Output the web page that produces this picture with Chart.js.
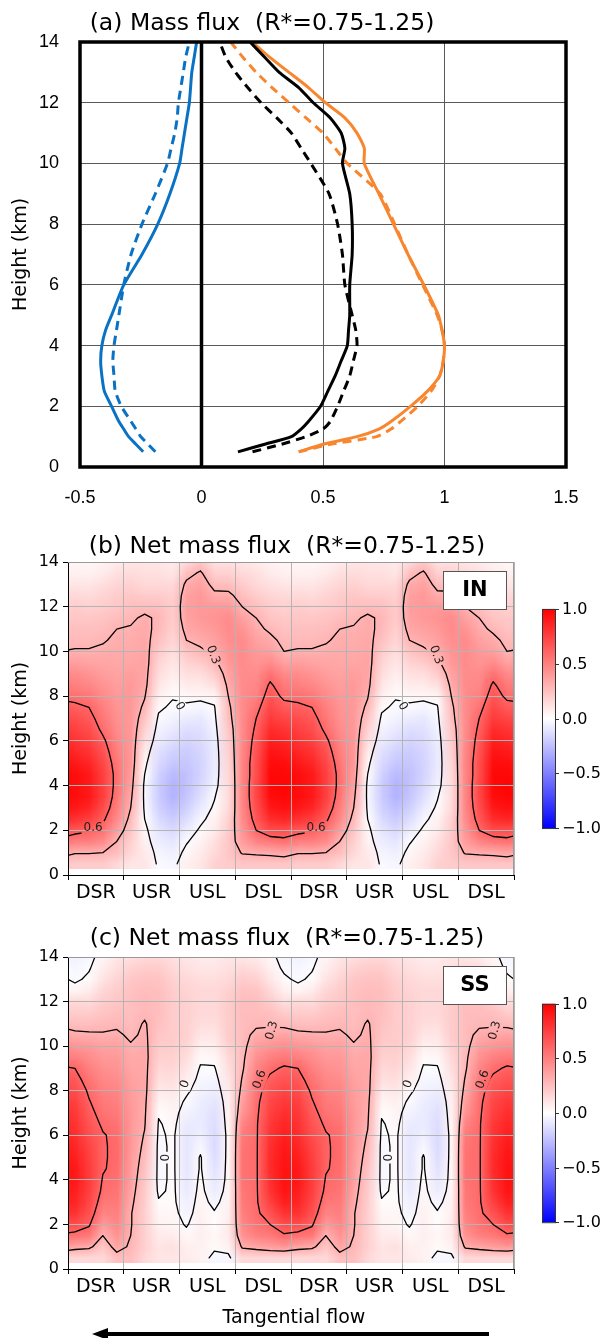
<!DOCTYPE html>
<html>
<head>
<meta charset="utf-8">
<script src="https://cdn.jsdelivr.net/npm/chart.js@4.4.1/dist/chart.umd.min.js"></script>
<style>
  body { margin: 0; background: #fff; }
  canvas { position: absolute; left: 0; }
</style>
</head>
<body>
<canvas id="fluxChart" width="608" height="515" style="top:0px"></canvas>
<canvas id="netInChart" width="608" height="390" style="top:515px"></canvas>
<canvas id="netSsChart" width="608" height="433" style="top:905px"></canvas>
<script>
// ---- (a) mass flux profiles ----
const profileHeights = [0.5,0.75,1,1.25,1.5,2,2.5,3,3.5,4,4.5,5,6,7,8,9,10,10.5,11,11.5,12,12.5,13,13.5,14];
const blueSolid    = [-0.24,-0.27,-0.30,-0.32,-0.34,-0.37,-0.40,-0.41,-0.415,-0.41,-0.395,-0.37,-0.32,-0.245,-0.18,-0.13,-0.09,-0.08,-0.07,-0.06,-0.05,-0.045,-0.04,-0.03,-0.02];
const blueDashed   = [-0.19,-0.22,-0.25,-0.27,-0.29,-0.33,-0.355,-0.36,-0.365,-0.36,-0.35,-0.34,-0.32,-0.29,-0.245,-0.19,-0.14,-0.125,-0.11,-0.10,-0.095,-0.085,-0.075,-0.065,-0.05];
const blackSolid   = [0.15,0.26,0.37,0.41,0.44,0.49,0.52,0.55,0.575,0.60,0.605,0.61,0.61,0.62,0.62,0.61,0.58,0.59,0.575,0.53,0.46,0.40,0.32,0.26,0.20];
const blackDashed  = [0.21,0.33,0.43,0.50,0.53,0.56,0.585,0.61,0.625,0.64,0.635,0.62,0.59,0.58,0.56,0.525,0.45,0.41,0.37,0.31,0.245,0.19,0.14,0.10,0.075];
const orangeSolid  = [0.40,0.50,0.64,0.73,0.78,0.86,0.93,0.98,0.995,1.0,0.99,0.975,0.915,0.85,0.79,0.73,0.67,0.67,0.64,0.59,0.51,0.44,0.36,0.28,0.21];
const orangeDashed = [0.40,0.53,0.72,0.78,0.82,0.89,0.945,0.98,0.995,1.0,0.99,0.97,0.91,0.85,0.795,0.735,0.60,0.55,0.50,0.43,0.36,0.29,0.225,0.17,0.12];
const fluxTicks = [-0.5, 0, 0.5, 1, 1.5];

// ---- (b), (c) net mass flux, azimuth-height sections ----
const sectorLabels = ['DSR','USR','USL','DSL','DSR','USR','USL','DSL'];
const gridHeights = [0.5,1,1.5,2,2.5,3,3.5,4,4.5,5,5.5,6,6.5,7,7.5,8,8.5,9,9.5,10,10.5,11,11.5,12,12.5,13,13.5,14];
// one azimuth cycle, 16 columns (4 per sector), each column from bottom to top
const netIN = [
  [0.2,0.31,0.5,0.65,0.8,0.9,0.95,0.95,0.95,0.9,0.85,0.8,0.75,0.7,0.63,0.56,0.5,0.45,0.38,0.31,0.27,0.25,0.22,0.2,0.15,0.1,0.06,0.03],
  [0.2,0.31,0.5,0.62,0.75,0.85,0.9,0.9,0.9,0.85,0.8,0.75,0.7,0.65,0.6,0.53,0.47,0.42,0.36,0.31,0.27,0.25,0.22,0.18,0.14,0.1,0.06,0.03],
  [0.2,0.3,0.45,0.55,0.63,0.7,0.75,0.75,0.75,0.72,0.68,0.63,0.57,0.53,0.5,0.46,0.42,0.38,0.35,0.32,0.29,0.26,0.23,0.2,0.17,0.13,0.08,0.05],
  [0.15,0.25,0.3,0.38,0.45,0.5,0.53,0.55,0.55,0.53,0.5,0.48,0.45,0.43,0.42,0.4,0.38,0.36,0.34,0.33,0.32,0.3,0.26,0.22,0.2,0.16,0.12,0.08],
  [0.1,0.15,0.18,0.22,0.26,0.3,0.33,0.36,0.38,0.4,0.4,0.4,0.4,0.4,0.4,0.4,0.4,0.38,0.35,0.33,0.32,0.31,0.28,0.25,0.22,0.18,0.14,0.1],
  [0.1,0.08,0.05,0.03,0.0,-0.02,-0.03,-0.03,0.0,0.03,0.07,0.12,0.17,0.22,0.27,0.31,0.34,0.35,0.36,0.35,0.34,0.33,0.32,0.26,0.2,0.15,0.12,0.1],
  [-0.02,-0.04,-0.07,-0.1,-0.14,-0.18,-0.2,-0.2,-0.18,-0.15,-0.12,-0.08,-0.05,-0.02,0.02,0.06,0.1,0.13,0.16,0.2,0.24,0.27,0.28,0.25,0.2,0.15,0.12,0.1],
  [-0.03,-0.06,-0.1,-0.15,-0.2,-0.25,-0.3,-0.3,-0.27,-0.22,-0.18,-0.13,-0.09,-0.05,-0.02,0.01,0.04,0.07,0.1,0.13,0.16,0.18,0.2,0.2,0.18,0.15,0.1,0.08],
  [0.06,0.03,-0.01,-0.07,-0.13,-0.18,-0.22,-0.24,-0.24,-0.22,-0.2,-0.17,-0.13,-0.08,-0.02,0.03,0.08,0.12,0.17,0.23,0.3,0.34,0.37,0.38,0.37,0.33,0.25,0.15],
  [0.1,0.08,0.05,0.02,-0.03,-0.08,-0.12,-0.15,-0.17,-0.17,-0.16,-0.14,-0.12,-0.09,-0.04,0.03,0.08,0.13,0.2,0.28,0.33,0.37,0.4,0.4,0.4,0.37,0.32,0.22],
  [0.18,0.15,0.12,0.08,0.05,0.02,-0.01,-0.05,-0.07,-0.08,-0.08,-0.07,-0.05,-0.03,-0.01,0.04,0.12,0.2,0.27,0.32,0.37,0.4,0.42,0.4,0.33,0.26,0.18,0.12],
  [0.2,0.22,0.22,0.2,0.18,0.15,0.14,0.14,0.15,0.16,0.18,0.2,0.22,0.25,0.27,0.3,0.33,0.36,0.4,0.42,0.44,0.45,0.45,0.4,0.33,0.25,0.18,0.12],
  [0.22,0.31,0.38,0.42,0.45,0.47,0.48,0.48,0.48,0.48,0.47,0.46,0.45,0.45,0.45,0.45,0.45,0.45,0.45,0.45,0.45,0.42,0.37,0.3,0.25,0.2,0.15,0.1],
  [0.22,0.32,0.48,0.6,0.66,0.7,0.72,0.72,0.7,0.7,0.68,0.66,0.63,0.6,0.55,0.5,0.47,0.45,0.42,0.4,0.37,0.33,0.3,0.25,0.2,0.15,0.12,0.08],
  [0.22,0.33,0.52,0.7,0.82,0.9,0.95,0.97,0.97,0.95,0.92,0.88,0.83,0.77,0.72,0.67,0.62,0.55,0.45,0.38,0.33,0.28,0.23,0.2,0.16,0.12,0.08,0.05],
  [0.22,0.35,0.55,0.7,0.85,0.93,0.97,0.98,0.97,0.95,0.9,0.85,0.8,0.73,0.65,0.57,0.52,0.46,0.37,0.3,0.27,0.24,0.21,0.18,0.15,0.1,0.06,0.04]
];
const netSS = [
  [0.15,0.35,0.55,0.7,0.8,0.85,0.88,0.9,0.9,0.88,0.85,0.82,0.8,0.78,0.75,0.7,0.65,0.6,0.5,0.42,0.33,0.25,0.2,0.15,0.04,-0.02,-0.03,-0.05],
  [0.15,0.33,0.52,0.62,0.68,0.72,0.75,0.76,0.76,0.75,0.73,0.7,0.67,0.64,0.61,0.58,0.54,0.5,0.45,0.4,0.32,0.25,0.2,0.14,0.08,0.02,-0.01,-0.03],
  [0.15,0.22,0.3,0.4,0.48,0.53,0.57,0.59,0.61,0.61,0.61,0.61,0.58,0.55,0.52,0.5,0.47,0.44,0.4,0.37,0.31,0.27,0.23,0.2,0.16,0.11,0.07,0.04],
  [0.25,0.35,0.42,0.47,0.5,0.52,0.54,0.56,0.57,0.58,0.58,0.57,0.55,0.52,0.5,0.48,0.45,0.42,0.4,0.37,0.32,0.28,0.25,0.22,0.2,0.17,0.13,0.1],
  [0.25,0.28,0.3,0.31,0.31,0.33,0.35,0.37,0.38,0.39,0.4,0.4,0.4,0.4,0.39,0.38,0.37,0.35,0.33,0.31,0.28,0.26,0.25,0.25,0.24,0.22,0.18,0.12],
  [0.15,0.18,0.18,0.18,0.18,0.19,0.2,0.21,0.23,0.25,0.27,0.29,0.31,0.32,0.33,0.34,0.34,0.34,0.34,0.33,0.32,0.31,0.28,0.27,0.26,0.24,0.2,0.15],
  [0.1,0.1,0.08,0.05,0.03,0.01,-0.02,-0.03,-0.03,-0.03,-0.03,-0.02,-0.01,0.01,0.04,0.08,0.12,0.15,0.18,0.2,0.22,0.24,0.25,0.25,0.25,0.23,0.2,0.15],
  [0.1,0.12,0.08,0.04,0.03,0.02,0.02,0.02,0.02,0.02,0.02,0.02,0.03,0.04,0.06,0.1,0.13,0.16,0.18,0.2,0.2,0.2,0.2,0.2,0.2,0.18,0.15,0.12],
  [0.08,0.06,0.03,-0.01,-0.04,-0.06,-0.08,-0.09,-0.1,-0.1,-0.1,-0.1,-0.08,-0.05,-0.02,0.02,0.06,0.1,0.13,0.16,0.18,0.18,0.18,0.18,0.17,0.15,0.12,0.1],
  [0.05,0.05,0.06,0.06,0.05,0.04,0.03,0.02,0.01,0.01,-0.03,-0.06,-0.08,-0.08,-0.07,-0.05,-0.03,-0.01,0.02,0.06,0.1,0.13,0.15,0.15,0.15,0.13,0.1,0.08],
  [-0.03,0.02,0.03,0.01,0.01,-0.03,-0.07,-0.09,-0.11,-0.13,-0.14,-0.14,-0.13,-0.12,-0.1,-0.07,-0.04,-0.01,0.03,0.07,0.1,0.13,0.15,0.15,0.15,0.13,0.1,0.08],
  [-0.03,0.05,0.08,0.08,0.06,0.05,0.04,0.03,0.03,0.03,0.03,0.03,0.04,0.05,0.06,0.08,0.1,0.13,0.15,0.18,0.2,0.2,0.2,0.2,0.18,0.15,0.12,0.1],
  [0.15,0.32,0.42,0.47,0.5,0.52,0.53,0.55,0.55,0.55,0.54,0.52,0.48,0.42,0.38,0.34,0.31,0.28,0.27,0.26,0.26,0.26,0.26,0.26,0.24,0.2,0.15,0.1],
  [0.15,0.35,0.5,0.55,0.57,0.58,0.58,0.58,0.58,0.58,0.58,0.58,0.58,0.57,0.56,0.54,0.52,0.48,0.43,0.38,0.33,0.28,0.26,0.25,0.23,0.18,0.13,0.08],
  [0.15,0.38,0.52,0.6,0.68,0.75,0.8,0.82,0.83,0.83,0.82,0.8,0.78,0.75,0.72,0.68,0.63,0.57,0.5,0.42,0.35,0.28,0.25,0.2,0.15,0.1,0.06,0.03],
  [0.15,0.4,0.58,0.7,0.8,0.88,0.92,0.93,0.93,0.92,0.9,0.88,0.85,0.82,0.78,0.73,0.68,0.62,0.53,0.45,0.36,0.27,0.2,0.13,0.06,0.02,-0.02,-0.04]
];
const contourLevels = [0, 0.3, 0.6];
const colorbarTicks = [1.0, 0.5, 0.0, -0.5, -1.0];

// contour labels for one azimuth cycle (repeated for each cycle drawn)
const labelsIN = [
  { x: 0.45, y: 2.1, text: '0.6', rot: 0 },
  { x: 2.6, y: 9.85, text: '0.3', rot: 70 },
  { x: 2.0, y: 7.55, text: '0', rot: 60 }
];
const labelsSS = [
  { x: 3.66, y: 10.7, text: '0.3', rot: -75 },
  { x: 3.44, y: 8.5, text: '0.6', rot: -70 },
  { x: 2.1, y: 8.3, text: '0', rot: -70 },
  { x: 1.76, y: 5.0, text: '0', rot: -90 }
];

Chart.defaults.color = '#000';
Chart.defaults.font.family = "'DejaVu Sans', sans-serif";

const DEJAVU = "'DejaVu Sans', sans-serif";
const LIBSANS = "'Liberation Sans', Arial, sans-serif";

function titlePlugin(text, x, y) {
  return {
    id: 'panelTitle',
    afterDraw(chart) {
      const ctx = chart.ctx;
      ctx.save();
      ctx.font = '23.5px ' + DEJAVU;
      ctx.fillStyle = '#000';
      ctx.textAlign = 'center';
      ctx.textBaseline = 'alphabetic';
      ctx.fillText(text, x, y);
      ctx.restore();
    }
  };
}

// ---------- panel (a) ----------
function profile(xs, color, dashed) {
  return {
    data: xs.map((x, i) => ({ x: x, y: profileHeights[i] })),
    borderColor: color,
    borderWidth: 3,
    borderDash: dashed ? [9, 6] : [],
    showLine: true,
    pointRadius: 0,
    tension: 0.2
  };
}

const framePlugin = {
  id: 'frame',
  afterDraw(chart) {
    const { ctx, chartArea: a } = chart;
    ctx.save();
    ctx.strokeStyle = '#000';
    ctx.lineWidth = 3.5;
    ctx.strokeRect(a.left, a.top, a.right - a.left, a.bottom - a.top);
    ctx.restore();
  }
};

new Chart(document.getElementById('fluxChart'), {
  type: 'scatter',
  data: {
    datasets: [
      { data: [{ x: 0, y: 0 }, { x: 0, y: 14 }], borderColor: '#000', borderWidth: 3.5, showLine: true, pointRadius: 0 },
      profile(blueSolid, '#0A72C4', false),
      profile(blueDashed, '#0A72C4', true),
      profile(blackSolid, '#000', false),
      profile(blackDashed, '#000', true),
      profile(orangeSolid, '#F7862F', false),
      profile(orangeDashed, '#F7862F', true)
    ]
  },
  options: {
    responsive: false,
    animation: false,
    layout: { padding: { top: 42, right: 42, left: 0, bottom: 0 } },
    plugins: { legend: { display: false }, tooltip: { enabled: false } },
    scales: {
      x: {
        type: 'linear', min: -0.5, max: 1.5,
        afterFit: s => { s.height = 48; },
        afterBuildTicks: s => { s.ticks = fluxTicks.map(v => ({ value: v })); },
        ticks: { padding: 20, font: { family: LIBSANS, size: 18 }, callback: v => String(v) },
        grid: { color: '#5a5a5a', lineWidth: 1, drawTicks: false },
        border: { display: false }
      },
      y: {
        min: 0, max: 14,
        afterFit: s => { s.width = 80; },
        ticks: { stepSize: 2, padding: 21, font: { family: LIBSANS, size: 18 } },
        grid: { color: '#5a5a5a', lineWidth: 1, drawTicks: false },
        border: { display: false },
        title: { display: true, text: 'Height (km)', font: { family: DEJAVU, size: 19 }, padding: { top: 10, bottom: 0 } }
      }
    }
  },
  plugins: [framePlugin, titlePlugin('(a) Mass flux  (R*=0.75-1.25)', 262, 30)]
});

// ---------- panels (b) and (c) ----------
function bwr(v) {
  v = Math.max(-1, Math.min(1, v));
  if (v >= 0) { const c = Math.round(255 * (1 - v)); return [255, c, c]; }
  const c = Math.round(255 * (1 + v));
  return [c, c, 255];
}

// marching squares over the column grid; the azimuth wraps at both ends
function contourSegments(cols, level) {
  const nx = cols.length, ny = gridHeights.length;
  const dx = sectorLabels.length / nx;
  const val = (k, j) => cols[((k - 1) % nx + nx) % nx][j];
  const segs = [];
  const crosses = (a, b) => (a < level) !== (b < level);
  const cut = (a, b, pa, pb) => {
    const t = (level - a) / (b - a);
    return [pa[0] + t * (pb[0] - pa[0]), pa[1] + t * (pb[1] - pa[1])];
  };
  for (let k = 0; k <= nx; k++) {
    const xa = (k - 0.5) * dx, xb = (k + 0.5) * dx;
    for (let j = 0; j < ny - 1; j++) {
      const ya = gridHeights[j], yb = gridHeights[j + 1];
      const v00 = val(k, j), v10 = val(k + 1, j), v11 = val(k + 1, j + 1), v01 = val(k, j + 1);
      const p00 = [xa, ya], p10 = [xb, ya], p11 = [xb, yb], p01 = [xa, yb];
      const bottom = crosses(v00, v10) ? cut(v00, v10, p00, p10) : null;
      const right = crosses(v10, v11) ? cut(v10, v11, p10, p11) : null;
      const top = crosses(v11, v01) ? cut(v11, v01, p11, p01) : null;
      const left = crosses(v01, v00) ? cut(v01, v00, p01, p00) : null;
      const pts = [bottom, right, top, left].filter(Boolean);
      if (pts.length === 2) {
        segs.push(pts);
      } else if (pts.length === 4) {
        const centre = (v00 + v10 + v11 + v01) / 4;
        if ((centre >= level) === (v00 >= level)) segs.push([bottom, right], [top, left]);
        else segs.push([left, bottom], [right, top]);
      }
    }
  }
  return segs;
}

function netFluxPlugins(cycle, labels, tag, withFlowArrow) {
  // the azimuth cycle is drawn twice around the x axis
  const cols = cycle.concat(cycle);
  const nx = cols.length, ny = gridHeights.length;
  const dx = sectorLabels.length / nx;
  const dh = gridHeights[1] - gridHeights[0];
  const cycleLen = sectorLabels.length / 2;
  const allLabels = labels.concat(labels.map(l => Object.assign({}, l, { x: l.x + cycleLen })));
  const contours = contourLevels.map(lv => contourSegments(cols, lv));

  const img = document.createElement('canvas');
  img.width = nx + 2;
  img.height = ny;
  const ictx = img.getContext('2d');
  const pix = ictx.createImageData(nx + 2, ny);
  for (let k = 0; k < nx + 2; k++) {
    const col = cols[((k - 1) % nx + nx) % nx];
    for (let j = 0; j < ny; j++) {
      const [r, g, b] = bwr(col[j]);
      const p = ((ny - 1 - j) * (nx + 2) + k) * 4;
      pix.data[p] = r; pix.data[p + 1] = g; pix.data[p + 2] = b; pix.data[p + 3] = 255;
    }
  }
  ictx.putImageData(pix, 0, 0);

  const heatmap = {
    id: 'heatmap',
    beforeDraw(chart) {
      const { ctx, chartArea: a, scales: { x: xs, y: ys } } = chart;
      const x0 = xs.getPixelForValue(-dx), x1 = xs.getPixelForValue((nx + 1) * dx);
      const yTop = ys.getPixelForValue(gridHeights[ny - 1] + dh / 2);
      const yBot = ys.getPixelForValue(gridHeights[0] - dh / 2);
      ctx.save();
      ctx.beginPath();
      ctx.rect(a.left, a.top, a.right - a.left, a.bottom - a.top);
      ctx.clip();
      ctx.imageSmoothingEnabled = true;
      ctx.drawImage(img, x0, yTop, x1 - x0, yBot - yTop);
      ctx.restore();
    },
    afterDatasetsDraw(chart) {
      const { ctx, chartArea: a, scales: { x: xs, y: ys } } = chart;
      ctx.save();
      ctx.font = '12px ' + DEJAVU;
      // keep the lines out from under their labels
      ctx.beginPath();
      ctx.rect(a.left, a.top, a.right - a.left, a.bottom - a.top);
      allLabels.forEach(l => {
        const w = ctx.measureText(l.text).width + 4;
        ctx.save();
        ctx.translate(xs.getPixelForValue(l.x), ys.getPixelForValue(l.y));
        ctx.rotate(l.rot * Math.PI / 180);
        ctx.rect(-w / 2, -7, w, 14);
        ctx.restore();
      });
      ctx.clip('evenodd');
      ctx.strokeStyle = '#000';
      ctx.lineWidth = 1.3;
      ctx.lineCap = 'round';
      contours.forEach(segs => {
        ctx.beginPath();
        segs.forEach(([p, q]) => {
          ctx.moveTo(xs.getPixelForValue(p[0]), ys.getPixelForValue(p[1]));
          ctx.lineTo(xs.getPixelForValue(q[0]), ys.getPixelForValue(q[1]));
        });
        ctx.stroke();
      });
      ctx.restore();

      ctx.save();
      ctx.fillStyle = '#222';
      ctx.font = '12px ' + DEJAVU;
      ctx.textAlign = 'center';
      ctx.textBaseline = 'middle';
      allLabels.forEach(l => {
        ctx.save();
        ctx.translate(xs.getPixelForValue(l.x), ys.getPixelForValue(l.y));
        ctx.rotate(l.rot * Math.PI / 180);
        ctx.fillText(l.text, 0, 0);
        ctx.restore();
      });
      ctx.restore();
    },
    afterDraw(chart) {
      const { ctx, chartArea: a } = chart;
      ctx.save();
      // thin top/right spines
      ctx.strokeStyle = '#999';
      ctx.lineWidth = 1;
      ctx.beginPath();
      ctx.moveTo(a.left, a.top + 0.5);
      ctx.lineTo(a.right - 0.5, a.top + 0.5);
      ctx.lineTo(a.right - 0.5, a.bottom);
      ctx.stroke();

      // experiment tag
      ctx.fillStyle = '#fff';
      ctx.fillRect(a.right - 71, a.top + 9, 64, 39);
      ctx.strokeStyle = '#555';
      ctx.strokeRect(a.right - 70.5, a.top + 9.5, 63, 38);
      ctx.fillStyle = '#000';
      ctx.font = 'bold 21px ' + DEJAVU;
      ctx.textAlign = 'center';
      ctx.textBaseline = 'middle';
      ctx.fillText(tag, a.right - 39, a.top + 29);

      // colour bar
      const h = (a.bottom - a.top) * 0.7;
      const top = a.top + ((a.bottom - a.top) - h) / 2;
      const left = a.right + 28, w = 13;
      const grad = ctx.createLinearGradient(0, top, 0, top + h);
      grad.addColorStop(0, 'rgb(255,0,0)');
      grad.addColorStop(0.5, 'rgb(255,255,255)');
      grad.addColorStop(1, 'rgb(0,0,255)');
      ctx.fillStyle = grad;
      ctx.fillRect(left, top, w, h);
      ctx.strokeStyle = '#333';
      ctx.strokeRect(left + 0.5, top + 0.5, w, h);
      ctx.font = '16px ' + DEJAVU;
      ctx.fillStyle = '#000';
      ctx.textAlign = 'left';
      ctx.textBaseline = 'middle';
      colorbarTicks.forEach(v => {
        const y = Math.round(top + (1 - v) / 2 * h) + 0.5;
        ctx.beginPath();
        ctx.moveTo(left + w, y);
        ctx.lineTo(left + w + 4, y);
        ctx.stroke();
        ctx.fillText(v.toFixed(1).replace('-', '\u2212'), left + w + 7, y);
      });

      if (withFlowArrow) {
        ctx.font = '19px ' + DEJAVU;
        ctx.textAlign = 'center';
        ctx.fillText('Tangential flow', 294, a.bottom + 49);
        const ay = a.bottom + 65;
        ctx.strokeStyle = '#000';
        ctx.lineWidth = 4;
        ctx.beginPath();
        ctx.moveTo(489, ay);
        ctx.lineTo(104, ay);
        ctx.stroke();
        ctx.fillStyle = '#000';
        ctx.beginPath();
        ctx.moveTo(92, ay);
        ctx.lineTo(108, ay - 6);
        ctx.lineTo(108, ay + 6);
        ctx.closePath();
        ctx.fill();
      }
      ctx.restore();
    }
  };
  return heatmap;
}

const isHalf = v => Math.abs(v - Math.floor(v) - 0.5) < 1e-6;

function netFluxChart(id, cycle, labels, tag, title, titleY, topPad, axisH, withFlowArrow) {
  return new Chart(document.getElementById(id), {
    type: 'scatter',
    data: { datasets: [] },
    options: {
      responsive: false,
      animation: false,
      layout: { padding: { top: topPad, right: 94, left: 0, bottom: 0 } },
      plugins: { legend: { display: false }, tooltip: { enabled: false } },
      scales: {
        x: {
          type: 'linear', min: 0, max: sectorLabels.length,
          afterFit: s => { s.height = axisH; },
          ticks: {
            stepSize: 0.5, autoSkip: false, maxRotation: 0, minRotation: 0, padding: 2,
            font: { family: DEJAVU, size: 19 },
            callback: v => isHalf(v) ? sectorLabels[Math.floor(v)] : ''
          },
          grid: {
            color: c => isHalf(c.tick.value) ? 'rgba(0,0,0,0)' : '#b4b4b4',
            tickColor: c => isHalf(c.tick.value) ? 'rgba(0,0,0,0)' : '#000',
            tickLength: 5, lineWidth: 1
          },
          border: { color: '#000', width: 1 }
        },
        y: {
          min: 0, max: 14,
          afterFit: s => { s.width = 68; },
          ticks: { stepSize: 2, padding: 4, font: { family: DEJAVU, size: 16 } },
          grid: { color: '#b4b4b4', tickColor: '#000', tickLength: 5, lineWidth: 1 },
          border: { color: '#000', width: 1 },
          title: { display: true, text: 'Height (km)', font: { family: DEJAVU, size: 19 }, padding: { top: 10, bottom: 0 } }
        }
      }
    },
    plugins: [netFluxPlugins(cycle, labels, tag, withFlowArrow), titlePlugin(title, 287, titleY)]
  });
}

netFluxChart('netInChart', netIN, labelsIN, 'IN', '(b) Net mass flux  (R*=0.75-1.25)', 38, 47, 30, false);
netFluxChart('netSsChart', netSS, labelsSS, 'SS', '(c) Net mass flux  (R*=0.75-1.25)', 40, 52, 69, true);
</script>
</body>
</html>
